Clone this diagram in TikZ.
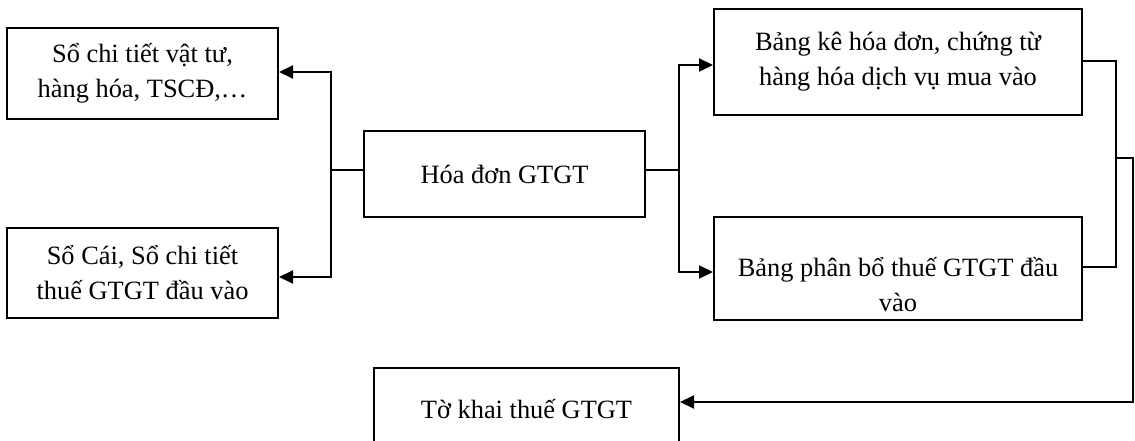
\documentclass[tikz,border=0pt]{standalone}
\usepackage{fontspec}
\setmainfont{Liberation Serif}
\usetikzlibrary{arrows.meta}
\begin{document}
\begin{tikzpicture}[x=1pt,y=-1pt,
  txt/.style={inner sep=0pt, font=\fontsize{26.4}{35}\selectfont, align=center},
  box/.style={txt, draw, line width=2pt},
  conn/.style={line width=2pt},
  arr/.style={conn, -{Triangle[length=14pt,width=13pt]}}]
\useasboundingbox (0,0) rectangle (1135,441);
\clip (0,0) rectangle (1135,441);

\node[box, minimum width=271pt, minimum height=91pt] (A) at (142.5,73.5) {Sổ chi tiết vật tư,\\hàng hóa, TSCĐ,…};
\node[box, minimum width=271pt, minimum height=90pt] (B) at (142.5,273) {Sổ Cái, Sổ chi tiết\\thuế GTGT đầu vào};
\node[box, minimum width=281pt, minimum height=86pt] (M) at (504.5,174) {Hóa đơn GTGT};
\node[box, minimum width=368pt, minimum height=106pt] (C) at (898,62) {Bảng kê hóa đơn, chứng từ\\hàng hóa dịch vụ mua vào};
\node[box, minimum width=368pt, minimum height=103pt] (D) at (898,268.5) {};
\node[txt] (Dt) at (898,285) {Bảng phân bổ thuế GTGT đầu\\vào};
\node[box, minimum width=305pt, minimum height=82pt] (E) at (526.5,409) {Tờ khai thuế GTGT};

\coordinate (jl) at (331,170);
\coordinate (jr) at (679,170);
\coordinate (jc) at (1116,158);
\coordinate (jo) at (1133,158);

\draw[conn] (jl -| M.west) -- (jl);
\draw[arr] (jl) |- ([yshift=1.5pt]A.east);
\draw[arr] (jl) |- ([yshift=-4pt]B.east);

\draw[conn] (jr -| M.east) -- (jr);
\draw[arr] (jr) |- ([yshift=-3pt]C.west);
\draw[arr] (jr) |- ([yshift=-3.5pt]D.west);

\draw[conn] ([yshift=1pt]C.east) -| (jc);
\draw[conn] ([yshift=1.5pt]D.east) -| (jc);
\draw[arr] (jc) -- (jo) |- ([yshift=7pt]E.east);
\end{tikzpicture}
\end{document}
